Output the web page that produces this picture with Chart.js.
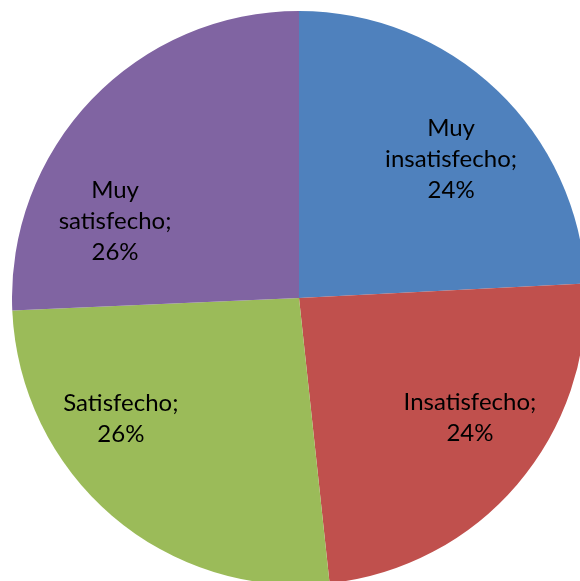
<!DOCTYPE html>
<html>
<head>
<meta charset="utf-8">
<script src="https://cdn.jsdelivr.net/npm/chart.js@4.4.1/dist/chart.umd.min.js"></script>
<style>
  html, body { margin: 0; padding: 0; background: #fff; overflow: hidden; }
  #wrap { position: absolute; left: 12px; top: 11px; width: 574px; height: 574px; }
</style>
</head>
<body>
<div id="wrap"><canvas id="pie" width="574" height="574"></canvas></div>
<script>
const categories = ['Muy insatisfecho', 'Insatisfecho', 'Satisfecho', 'Muy satisfecho'];
const values = [24.2, 24.1, 26.0, 25.7];
const labelLines = [['Muy', 'insatisfecho;'], ['Insatisfecho;'], ['Satisfecho;'], ['Muy', 'satisfecho;']];
const colors = ['#4F81BD', '#C0504D', '#9BBB59', '#8064A2'];

// where each label sits: degrees away from slice middle, fraction of radius
const labelPlace = [
  { turn: 4.0, dist: 0.718 },
  { turn: -5.4, dist: 0.728 },
  { turn: 15.3, dist: 0.749 },
  { turn: -21.0, dist: 0.695 }
];

const sliceLabels = {
  id: 'sliceLabels',
  afterDatasetsDraw(chart) {
    const ctx = chart.ctx;
    const meta = chart.getDatasetMeta(0);
    ctx.save();
    ctx.font = '24px Lato, "Open Sans", sans-serif';
    ctx.fillStyle = '#000';
    ctx.textAlign = 'center';
    ctx.textBaseline = 'middle';
    meta.data.forEach((arc, i) => {
      const p = arc.getProps(['x', 'y', 'startAngle', 'endAngle', 'outerRadius'], true);
      const mid = (p.startAngle + p.endAngle) / 2 + labelPlace[i].turn * Math.PI / 180;
      const r = p.outerRadius * labelPlace[i].dist;
      const cx = p.x + Math.cos(mid) * r;
      const cy = p.y + Math.sin(mid) * r;
      const lines = [...labelLines[i], Math.round(values[i]) + '%'];
      const lh = 31;
      lines.forEach((t, k) => {
        ctx.fillText(t, cx, cy + (k - (lines.length - 1) / 2) * lh);
      });
    });
    ctx.restore();
  }
};

new Chart(document.getElementById('pie').getContext('2d'), {
  type: 'pie',
  data: {
    labels: categories,
    datasets: [{
      data: values,
      backgroundColor: colors,
      borderWidth: 0
    }]
  },
  options: {
    responsive: false,
    animation: false,
    layout: { padding: 0 },
    plugins: {
      legend: { display: false },
      tooltip: { enabled: false }
    }
  },
  plugins: [sliceLabels]
});
</script>
</body>
</html>
